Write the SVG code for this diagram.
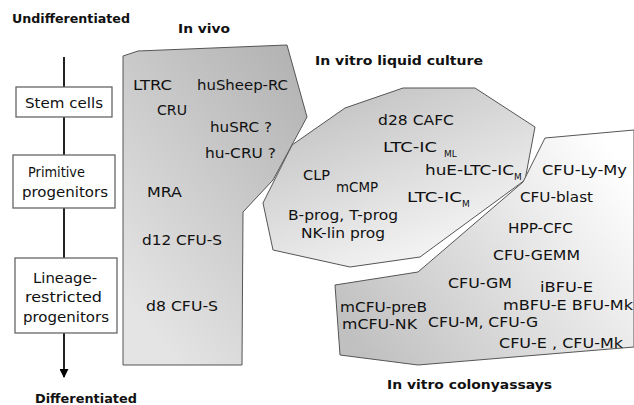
<svg xmlns="http://www.w3.org/2000/svg" width="634" height="405" viewBox="0 0 634 405">
<defs>
<linearGradient id="gVivo" x1="1" y1="0" x2="0.3" y2="1">
<stop offset="0" stop-color="#b0b0b0"/><stop offset="1" stop-color="#e4e4e4"/>
</linearGradient>
<linearGradient id="gLiq" x1="0" y1="0" x2="0.6" y2="1">
<stop offset="0" stop-color="#bbbbbb"/><stop offset="1" stop-color="#f6f6f6"/>
</linearGradient>
<linearGradient id="gCol" x1="0" y1="0.8" x2="1" y2="0.2">
<stop offset="0" stop-color="#c0c0c0"/><stop offset="1" stop-color="#ffffff"/>
</linearGradient>
<marker id="arr" viewBox="0 0 10 10" refX="9" refY="5" markerWidth="9" markerHeight="9" markerUnits="userSpaceOnUse" orient="auto">
<path d="M0,0 L10,5 L0,10 z" fill="#000"/>
</marker>
</defs>
<style>
text{font-family:"DejaVu Sans","Liberation Sans",sans-serif;fill:#111;}
.h{font-weight:bold;font-size:13px;}
.t{font-size:14px;}
.s{font-size:9px;}
.b{font-size:13.5px;}
.box{fill:#fff;stroke:#666;stroke-width:1.3;}
.reg{stroke:#555;stroke-width:1;}
.ln{stroke:#222;stroke-width:2;fill:none;}
</style>
<rect width="634" height="405" fill="#fff"/>

<g id="liquid">
<polygon class="reg" fill="url(#gLiq)" points="345,108 403,88 475,88 535,127 525,180 420,257 350,267 273,250 263,203 292,145"/>
<text class="t" x="378" y="125" textLength="76" lengthAdjust="spacingAndGlyphs">d28 CAFC</text>
<text class="t" x="383" y="152" textLength="54" lengthAdjust="spacingAndGlyphs">LTC-IC</text>
<text class="s" x="444" y="157">ML</text>
<text class="t" x="425" y="175" textLength="89" lengthAdjust="spacingAndGlyphs">huE-LTC-IC</text>
<text class="s" x="514" y="180">M</text>
<text class="t" x="303" y="180" textLength="27" lengthAdjust="spacingAndGlyphs">CLP</text>
<text class="t" x="336" y="192" textLength="42" lengthAdjust="spacingAndGlyphs">mCMP</text>
<text class="t" x="407" y="202" textLength="55" lengthAdjust="spacingAndGlyphs">LTC-IC</text>
<text class="s" x="462" y="207">M</text>
<text class="t" x="288" y="220" textLength="110" lengthAdjust="spacingAndGlyphs">B-prog, T-prog</text>
<text class="t" x="301" y="238" textLength="84" lengthAdjust="spacingAndGlyphs">NK-lin prog</text>
</g>

<g id="colony">
<polygon class="reg" fill="url(#gCol)" points="545,138 634,130 634,347 418,365 340,355 335,285 418,272 523,182"/>
<text class="t" x="542" y="175" textLength="85" lengthAdjust="spacingAndGlyphs">CFU-Ly-My</text>
<text class="t" x="520" y="202" textLength="73" lengthAdjust="spacingAndGlyphs">CFU-blast</text>
<text class="t" x="508" y="233" textLength="65" lengthAdjust="spacingAndGlyphs">HPP-CFC</text>
<text class="t" x="493" y="260" textLength="87" lengthAdjust="spacingAndGlyphs">CFU-GEMM</text>
<text class="t" x="448" y="288" textLength="64" lengthAdjust="spacingAndGlyphs">CFU-GM</text>
<text class="t" x="540" y="292" textLength="53" lengthAdjust="spacingAndGlyphs">iBFU-E</text>
<text class="t" x="340" y="312" textLength="87" lengthAdjust="spacingAndGlyphs">mCFU-preB</text>
<text class="t" x="503" y="310" textLength="130" lengthAdjust="spacingAndGlyphs">mBFU-E BFU-Mk</text>
<text class="t" x="342" y="329" textLength="75" lengthAdjust="spacingAndGlyphs">mCFU-NK</text>
<text class="t" x="428" y="327" textLength="110" lengthAdjust="spacingAndGlyphs">CFU-M, CFU-G</text>
<text class="t" x="499" y="348" textLength="124" lengthAdjust="spacingAndGlyphs">CFU-E , CFU-Mk</text>
</g>

<g id="invivo">
<polygon class="reg" fill="url(#gVivo)" points="123,56 138,51 287,45 307,117 273,180 243,212 242,365 123,365"/>
<text class="t" x="133" y="90" textLength="39" lengthAdjust="spacingAndGlyphs">LTRC</text>
<text class="t" x="197" y="90" textLength="91" lengthAdjust="spacingAndGlyphs">huSheep-RC</text>
<text class="t" x="157" y="115" textLength="30" lengthAdjust="spacingAndGlyphs">CRU</text>
<text class="t" x="210" y="132" textLength="62" lengthAdjust="spacingAndGlyphs">huSRC ?</text>
<text class="t" x="205" y="158" textLength="71" lengthAdjust="spacingAndGlyphs">hu-CRU ?</text>
<text class="t" x="147" y="197" textLength="35" lengthAdjust="spacingAndGlyphs">MRA</text>
<text class="t" x="142" y="245" textLength="80" lengthAdjust="spacingAndGlyphs">d12 CFU-S</text>
<text class="t" x="146" y="311" textLength="72" lengthAdjust="spacingAndGlyphs">d8 CFU-S</text>
</g>

<g id="labels">
<text class="h" x="12" y="23" textLength="118" lengthAdjust="spacingAndGlyphs">Undifferentiated</text>
<text class="h" x="178" y="33" textLength="52" lengthAdjust="spacingAndGlyphs">In vivo</text>
<text class="h" x="315" y="65" textLength="168" lengthAdjust="spacingAndGlyphs">In vitro liquid culture</text>
<text class="h" x="387" y="389" textLength="165" lengthAdjust="spacingAndGlyphs">In vitro colonyassays</text>
<text class="h" x="35" y="403" textLength="102" lengthAdjust="spacingAndGlyphs">Differentiated</text>
</g>

<g id="connectors">
<line class="ln" x1="64" y1="57" x2="64" y2="87"/>
<line class="ln" x1="64" y1="117" x2="64" y2="155"/>
<line class="ln" x1="64" y1="208" x2="64" y2="258"/>
<line class="ln" x1="64" y1="333" x2="64" y2="377" marker-end="url(#arr)"/>
</g>

<g id="stem">
<rect class="box" x="16" y="87" width="96" height="30"/>
<text class="b" x="64" y="108" text-anchor="middle" textLength="78" lengthAdjust="spacingAndGlyphs">Stem cells</text>
</g>
<g id="primitive">
<rect class="box" x="13" y="155" width="102" height="53"/>
<text class="b" x="28" y="177" textLength="57" lengthAdjust="spacingAndGlyphs">Primitive</text>
<text class="b" x="22" y="197" textLength="86" lengthAdjust="spacingAndGlyphs">progenitors</text>
</g>
<g id="lineage">
<rect class="box" x="15" y="258" width="102" height="75"/>
<text class="b" x="33" y="283" textLength="64" lengthAdjust="spacingAndGlyphs">Lineage-</text>
<text class="b" x="25" y="302" textLength="77" lengthAdjust="spacingAndGlyphs">restricted</text>
<text class="b" x="23" y="322" textLength="86" lengthAdjust="spacingAndGlyphs">progenitors</text>
</g>
</svg>
